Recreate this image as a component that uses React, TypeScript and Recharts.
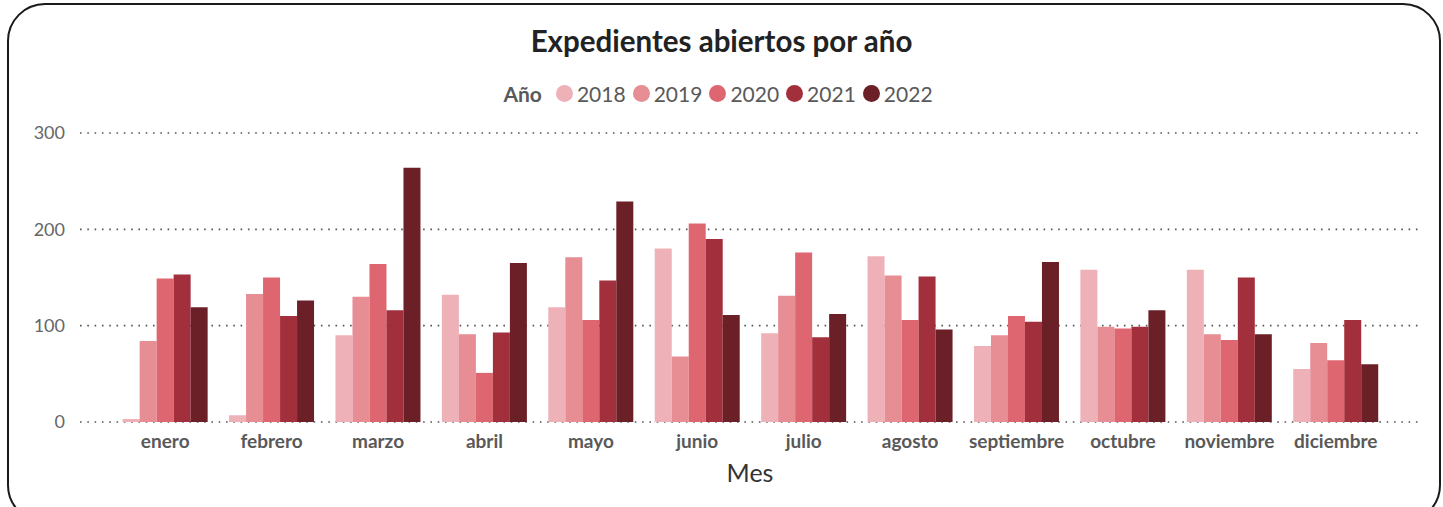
import React from "react";
import { BarChart, Bar, XAxis, YAxis, CartesianGrid, Legend } from "recharts";

const months = ["enero", "febrero", "marzo", "abril", "mayo", "junio", "julio", "agosto", "septiembre", "octubre", "noviembre", "diciembre"];
const years = ["2018", "2019", "2020", "2021", "2022"];
const v2018 = [3, 7, 90, 132, 119, 180, 92, 172, 79, 158, 158, 55];
const v2019 = [84, 133, 130, 91, 171, 68, 131, 152, 90, 99, 91, 82];
const v2020 = [149, 150, 164, 51, 106, 206, 176, 106, 110, 97, 85, 64];
const v2021 = [153, 110, 116, 93, 147, 190, 88, 151, 104, 99, 150, 106];
const v2022 = [119, 126, 264, 165, 229, 111, 112, 96, 166, 116, 91, 60];
const yTicks = [0, 100, 200, 300];
const colors = ["#EFB1B8", "#E78D94", "#DE6670", "#A12F3C", "#6B1F27"];

const seriesValues = [v2018, v2019, v2020, v2021, v2022];
const data = months.map((m, i) => {
  const row: Record<string, string | number> = { mes: m };
  years.forEach((y, k) => {
    row[y] = seriesValues[k][i];
  });
  return row;
});

const FONT = "Lato, 'Open Sans', sans-serif";

const LegendContent = () => (
  <div
    style={{
      display: "flex",
      justifyContent: "center",
      alignItems: "center",
      height: 24,
      fontFamily: FONT,
      fontSize: 21,
      color: "#595959",
    }}
  >
    <span style={{ fontWeight: 700, marginRight: 14 }}>Año</span>
    {years.map((y, k) => (
      <span key={y} style={{ display: "flex", alignItems: "center", marginRight: 7 }}>
        <span
          style={{
            width: 17,
            height: 17,
            borderRadius: 9,
            background: colors[k],
            display: "inline-block",
            marginRight: 4,
          }}
        />
        <span>{y}</span>
      </span>
    ))}
  </div>
);

export default function App() {
  return (
    <div
      style={{
        position: "absolute",
        left: 0,
        top: 0,
        width: 1443,
        height: 507,
        overflow: "hidden",
        background: "#fff",
      }}
    >
      <div
        style={{
          position: "absolute",
          left: 7,
          top: 3,
          width: 1434,
          height: 520,
          border: "2px solid #1a1a1a",
          borderRadius: 38,
          boxSizing: "border-box",
        }}
      />
      <div
        style={{
          position: "absolute",
          left: 0,
          top: 22,
          width: 1443,
          textAlign: "center",
          fontFamily: FONT,
          fontWeight: 700,
          fontSize: 29.5,
          color: "#222",
          lineHeight: "38px",
        }}
      >
        Expedientes abiertos por año
      </div>
      <BarChart
        width={1443}
        height={507}
        data={data}
        margin={{ top: 109, right: 23, bottom: 0, left: 0 }}
        barGap={0}
        barCategoryGap="10%"
      >
        <Legend
          verticalAlign="top"
          align="center"
          content={<LegendContent />}
          wrapperStyle={{ top: 81, left: 0, width: 1443 }}
        />
        <CartesianGrid
          vertical={false}
          stroke="#555"
          strokeWidth={1.6}
          strokeDasharray="1.6 5.7"
        />
        <XAxis
          dataKey="mes"
          axisLine={false}
          tickLine={false}
          tickSize={0}
          tickMargin={13}
          height={85}
          padding={{ left: 32, right: 31 }}
          interval={0}
          tick={{ fill: "#595959", fontSize: 19, fontWeight: 700, fontFamily: FONT }}
          label={{ value: "Mes", position: "insideBottom", offset: 25, fill: "#333", fontSize: 25, fontFamily: FONT }}
        />
        <YAxis
          domain={[0, 300]}
          ticks={yTicks}
          axisLine={false}
          tickLine={false}
          tickSize={0}
          tickMargin={15}
          width={80}
          tick={{ fill: "#666", fontSize: 18, fontFamily: FONT }}
        />
        {years.map((y, k) => (
          <Bar key={y} dataKey={y} fill={colors[k]} isAnimationActive={false} />
        ))}
      </BarChart>
    </div>
  );
}
